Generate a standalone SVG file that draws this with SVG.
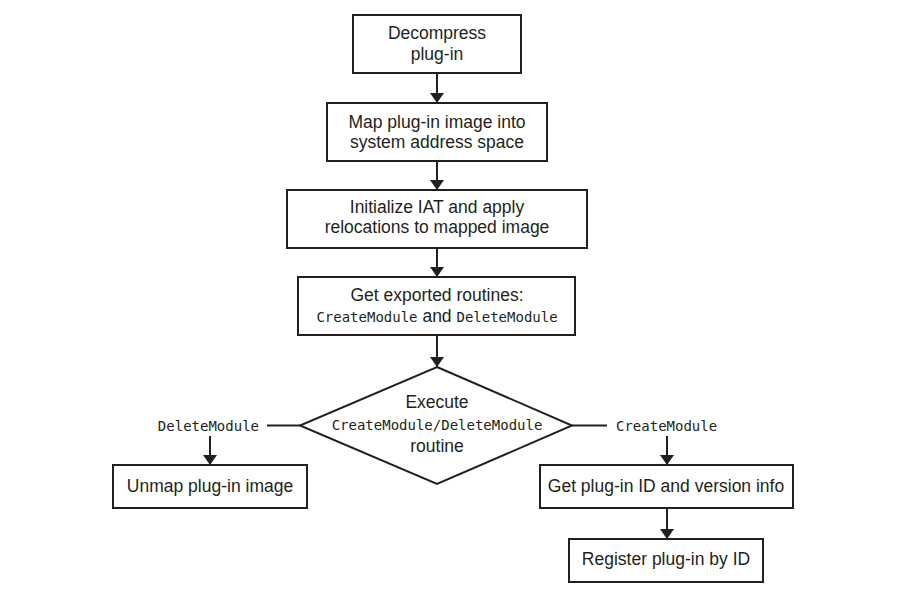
<svg xmlns="http://www.w3.org/2000/svg" width="900" height="600" viewBox="0 0 900 600">
  <style>
    .box { fill: #ffffff; stroke: #231f20; stroke-width: 2; }
    .edge { fill: none; stroke: #231f20; stroke-width: 2; }
    .t { font-family: "Liberation Sans", "DejaVu Sans", sans-serif; font-size: 17.5px; fill: #231f20; text-anchor: middle; }
    .m { font-family: "DejaVu Sans Mono", "Liberation Mono", monospace; font-size: 14px; fill: #231f20; }
  </style>
  <defs>
    <marker id="arrow" viewBox="0 0 10 14" refX="10" refY="7" markerWidth="10" markerHeight="14" markerUnits="userSpaceOnUse" orient="auto">
      <path d="M0,0 L10,7 L0,14 Z" fill="#231f20"/>
    </marker>
  </defs>
  <rect width="900" height="600" fill="#ffffff"/>

  <g id="connectors">
    <line class="edge" x1="437" y1="73" x2="437" y2="103" marker-end="url(#arrow)"/>
    <line class="edge" x1="437" y1="161" x2="437" y2="190" marker-end="url(#arrow)"/>
    <line class="edge" x1="437" y1="248" x2="437" y2="277" marker-end="url(#arrow)"/>
    <line class="edge" x1="437" y1="335" x2="437" y2="367" marker-end="url(#arrow)"/>
    <line class="edge" x1="300" y1="425.5" x2="267" y2="425.5"/>
    <line class="edge" x1="572" y1="425.5" x2="607" y2="425.5"/>
    <line class="edge" x1="210" y1="436" x2="210" y2="465" marker-end="url(#arrow)"/>
    <line class="edge" x1="667" y1="436" x2="667" y2="465" marker-end="url(#arrow)"/>
    <line class="edge" x1="667" y1="508" x2="667" y2="539" marker-end="url(#arrow)"/>
    <text class="m" x="259" y="431" text-anchor="end">DeleteModule</text>
    <text class="m" x="616" y="431">CreateModule</text>
  </g>

  <g id="decompress">
    <rect class="box" x="353" y="15" width="168" height="58"/>
    <text class="t" x="437" y="39">Decompress</text>
    <text class="t" x="437" y="60">plug-in</text>
  </g>

  <g id="map-image">
    <rect class="box" x="327" y="103" width="220" height="58"/>
    <text class="t" x="437" y="128">Map plug-in image into</text>
    <text class="t" x="437" y="148">system address space</text>
  </g>

  <g id="init-iat">
    <rect class="box" x="287" y="190" width="300" height="58"/>
    <text class="t" x="437" y="213">Initialize IAT and apply</text>
    <text class="t" x="437" y="233">relocations to mapped image</text>
  </g>

  <g id="get-exports">
    <rect class="box" x="298" y="277" width="277" height="58"/>
    <text class="t" x="437" y="301">Get exported routines:</text>
    <text class="t" x="437" y="322"><tspan class="m">CreateModule</tspan> and <tspan class="m">DeleteModule</tspan></text>
  </g>

  <g id="execute">
    <polygon class="box" points="437,367 572,425.5 437,484 300,425.5"/>
    <text class="t" x="437" y="408">Execute</text>
    <text class="m" x="437" y="430" text-anchor="middle">CreateModule/DeleteModule</text>
    <text class="t" x="437" y="452">routine</text>
  </g>

  <g id="unmap">
    <rect class="box" x="113" y="465" width="194" height="43"/>
    <text class="t" x="210" y="492">Unmap plug-in image</text>
  </g>

  <g id="get-id">
    <rect class="box" x="540" y="465" width="253" height="43"/>
    <text class="t" x="666" y="492">Get plug-in ID and version info</text>
  </g>

  <g id="register">
    <rect class="box" x="569" y="539" width="194" height="43"/>
    <text class="t" x="666" y="565">Register plug-in by ID</text>
  </g>
</svg>
